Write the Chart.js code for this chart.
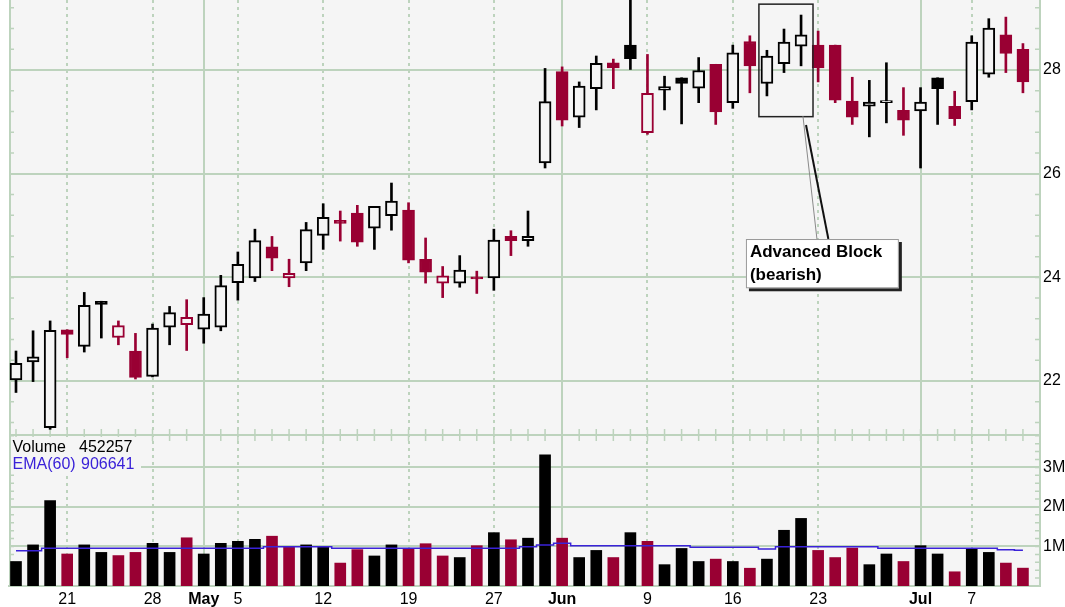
<!DOCTYPE html>
<html>
<head>
<meta charset="utf-8">
<title>Candlestick with volume</title>
<script src="https://cdn.jsdelivr.net/npm/chart.js@4/dist/chart.umd.min.js"></script>
<style>
  html, body { margin: 0; padding: 0; background: #fff; }
  #wrap { width: 1065px; height: 607px; }
</style>
</head>
<body>
<div id="wrap"><canvas id="chart" width="1065" height="607"></canvas></div>
<script>
// daily prices, one entry per trading day (Apr 15 .. Jul 10)
const opens = [22.02, 22.37, 21.10, 22.99, 22.67, 23.54, 22.84, 22.58, 22.09, 23.04,
  23.09, 23.00, 23.04, 23.90, 23.99, 24.59, 23.99, 24.28, 24.81, 25.10,
  25.24, 24.95, 25.19, 25.30, 24.35, 23.89, 23.89, 23.99, 23.99, 24.79,
  24.71, 26.21, 27.97, 27.09, 27.64, 28.14, 28.48, 26.79, 27.61, 27.85,
  27.65, 28.11, 27.37, 28.55, 27.74, 28.12, 28.46, 28.48, 28.48, 27.40,
  27.30, 27.37, 27.22, 27.21, 27.85, 27.30, 27.39, 27.92, 28.68, 28.40];
const highs = [22.58, 22.97, 23.16, 22.99, 23.71, 23.54, 23.16, 22.92, 23.10, 23.44,
  23.57, 23.61, 24.04, 24.49, 24.93, 24.79, 24.35, 25.06, 25.42, 25.28,
  25.39, 25.37, 25.82, 25.44, 24.76, 24.21, 24.42, 24.12, 24.93, 24.90,
  25.28, 28.03, 28.06, 27.77, 28.27, 28.21, 29.50, 28.30, 27.88, 27.85,
  28.24, 28.11, 28.48, 28.66, 28.38, 28.79, 29.06, 28.75, 28.48, 27.86,
  27.80, 28.14, 27.66, 27.66, 27.85, 27.59, 28.66, 28.99, 29.02, 28.51];
const lows = [21.78, 21.99, 21.07, 22.45, 22.56, 22.83, 22.70, 22.04, 22.08, 22.70,
  22.59, 22.73, 22.97, 23.56, 23.92, 24.13, 23.82, 24.13, 24.54, 24.70,
  24.60, 24.54, 24.91, 24.28, 23.89, 23.61, 23.81, 23.69, 23.75, 24.42,
  24.60, 26.11, 26.92, 26.89, 27.23, 27.64, 28.01, 26.76, 27.23, 26.96,
  27.37, 26.95, 27.26, 27.56, 27.50, 27.95, 28.08, 27.77, 27.37, 26.95,
  26.71, 26.98, 26.74, 26.11, 26.95, 26.93, 27.23, 27.86, 27.95, 27.56];
const closes = [22.34, 22.47, 22.98, 22.90, 23.46, 23.48, 23.07, 22.07, 23.02, 23.32,
  23.23, 23.29, 23.84, 24.25, 24.71, 24.37, 24.08, 24.92, 25.16, 25.04,
  24.68, 25.37, 25.47, 24.33, 24.10, 24.03, 24.14, 23.97, 24.72, 24.71,
  24.79, 27.39, 27.03, 27.69, 28.13, 28.04, 28.22, 27.55, 27.68, 27.74,
  27.99, 27.19, 28.33, 28.08, 28.27, 28.54, 28.68, 28.04, 27.42, 27.09,
  27.38, 27.39, 27.03, 27.38, 27.64, 27.06, 28.54, 28.81, 28.32, 27.77];

const volumes = [620000, 1040000, 2160000, 810000, 1040000, 850000, 770000, 850000, 1080000, 850000,
  1220000, 810000, 1080000, 1130000, 1180000, 1260000, 980000, 1040000, 980000, 580000,
  920000, 760000, 1040000, 940000, 1070000, 760000, 720000, 1020000, 1350000, 1170000,
  1210000, 3320000, 1210000, 720000, 900000, 720000, 1350000, 1130000, 540000, 950000,
  620000, 680000, 620000, 450000, 680000, 1410000, 1710000, 900000, 720000, 960000,
  540000, 810000, 620000, 1020000, 810000, 360000, 940000, 850000, 580000, 452257];
const ema60 = [894000, 894000, 954000, 954000, 954000, 954000, 954000, 954000, 954000, 954000,
  954000, 954000, 954000, 954000, 954000, 995000, 995000, 995000, 995000, 954000,
  954000, 954000, 954000, 954000, 954000, 954000, 954000, 954000, 954000, 954000,
  995000, 1038000, 1080000, 1020000, 1020000, 1020000, 1020000, 1020000, 1020000, 1020000,
  980000, 980000, 980000, 980000, 937000, 995000, 995000, 995000, 995000, 995000,
  995000, 954000, 954000, 954000, 954000, 954000, 954000, 954000, 915000, 906641];

// date axis: index of the labelled day and its text
const dateTicks = [3, 8, 11, 13, 18, 23, 28, 32, 37, 42, 47, 53, 56];
const dateLabels = ['21', '28', 'May', '5', '12', '19', '27', 'Jun', '9', '16', '23', 'Jul', '7'];
const monthTicks = [11, 32, 53];

const priceTicks = [22, 24, 26, 28];
const volumeTicks = [1000000, 2000000, 3000000];

// pattern note
const noteLines = ['Advanced Block', '(bearish)'];

const RED = '#990033';
const GRID = '#bdd3bd';
const PANEL = '#f5f5f5';
const BLUE = '#3a22d8';

Chart.defaults.font.family = '"Liberation Sans", Arial, sans-serif';
Chart.defaults.font.size = 16;
Chart.defaults.color = '#000';

function isUp(i) {
  return i === 0 ? closes[0] >= opens[0] : closes[i] >= closes[i - 1];
}
const candleColors = closes.map((c, i) => isUp(i) ? '#000' : RED);
const bodyFills = closes.map((c, i) => c < opens[i] ? candleColors[i] : PANEL);

const decor = {
  id: 'decor',
  beforeDraw(chart) {
    const { ctx, chartArea: a } = chart;
    ctx.save();
    ctx.fillStyle = PANEL;
    ctx.fillRect(a.left, a.top, a.width, a.height);
    ctx.restore();
  },
  beforeDatasetsDraw(chart) {
    const { ctx, chartArea: a, scales } = chart;
    const xs = scales.x, ys = scales.y, vs = scales.v;
    ctx.save();
    ctx.strokeStyle = GRID;

    // left frame
    ctx.lineWidth = 2;
    ctx.beginPath();
    ctx.moveTo(a.left + 1, a.top);
    ctx.lineTo(a.left + 1, a.bottom);
    ctx.stroke();

    // divider between price and volume panes
    ctx.beginPath();
    ctx.moveTo(a.left, ys.bottom);
    ctx.lineTo(a.right, ys.bottom);
    ctx.stroke();

    // small ticks on the divider, one per day
    ctx.lineWidth = 1.5;
    ctx.beginPath();
    for (let i = 0; i < closes.length; i++) {
      const px = xs.getPixelForValue(i);
      ctx.moveTo(px, ys.bottom - 6);
      ctx.lineTo(px, ys.bottom + 6);
    }
    ctx.stroke();

    // minor ticks along both side frames
    ctx.beginPath();
    for (let v = 22 - 0.4 * 2; v <= ys.max; v += 0.4) {
      const py = ys.getPixelForValue(v);
      if (py < a.top || py > ys.bottom) continue;
      ctx.moveTo(a.right - 5, py); ctx.lineTo(a.right, py);
      ctx.moveTo(a.left, py); ctx.lineTo(a.left + 5, py);
    }
    for (let v = 200000; v < vs.max; v += 200000) {
      const py = vs.getPixelForValue(v);
      ctx.moveTo(a.right - 5, py); ctx.lineTo(a.right, py);
      ctx.moveTo(a.left, py); ctx.lineTo(a.left + 5, py);
    }
    ctx.stroke();

    // volume pane caption
    ctx.fillStyle = PANEL;
    ctx.fillRect(a.left + 2, ys.bottom + 2, 130, 35);
    ctx.font = '16px "Liberation Sans", Arial, sans-serif';
    ctx.textBaseline = 'alphabetic';
    ctx.fillStyle = '#000';
    ctx.fillText('Volume', 12.5, ys.bottom + 17);
    ctx.fillText(String(volumes[volumes.length - 1]), 79, ys.bottom + 17);
    ctx.fillStyle = BLUE;
    ctx.fillText('EMA(60)', 12.5, ys.bottom + 34);
    ctx.fillText(String(ema60[ema60.length - 1]), 81, ys.bottom + 34);
    ctx.restore();
  },
  afterDraw(chart) {
    const { ctx, scales } = chart;
    const xs = scales.x, ys = scales.y;
    const X = v => xs.getPixelForValue(v);
    const Y = v => ys.getPixelForValue(v);
    ctx.save();

    // frame around the three advancing candles
    ctx.strokeStyle = '#222';
    ctx.lineWidth = 1.5;
    ctx.strokeRect(X(43.53), Y(29.27), X(46.7) - X(43.53), Y(27.1) - Y(29.27));

    // pointer from frame to note
    ctx.lineWidth = 1;
    ctx.strokeStyle = '#8a8a8a';
    ctx.beginPath();
    ctx.moveTo(X(46.11), Y(27.11));
    ctx.lineTo(X(46.93), Y(24.74));
    ctx.stroke();
    ctx.lineWidth = 2;
    ctx.strokeStyle = '#111';
    ctx.beginPath();
    ctx.moveTo(X(46.29), Y(26.94));
    ctx.lineTo(X(47.6), Y(24.74));
    ctx.stroke();

    // note box with drop shadow
    const bx = X(42.77), by = Y(24.74);
    const bw = X(51.73) - bx, bh = Y(23.79) - by;
    ctx.fillStyle = '#222';
    ctx.fillRect(bx + 3, by + 3, bw, bh);
    ctx.fillStyle = '#fff';
    ctx.fillRect(bx, by, bw, bh);
    ctx.strokeStyle = '#999';
    ctx.lineWidth = 1;
    ctx.strokeRect(bx + 0.5, by + 0.5, bw - 1, bh - 1);
    ctx.fillStyle = '#000';
    ctx.font = 'bold 17px "Liberation Sans", Arial, sans-serif';
    ctx.textBaseline = 'alphabetic';
    noteLines.forEach((t, k) => ctx.fillText(t, bx + 4, by + 18 + k * 23));
    ctx.restore();
  }
};

const ctx = document.getElementById('chart');
new Chart(ctx, {
  type: 'bar',
  data: {
    datasets: [
      {
        // candle bodies, open to close
        label: 'Body',
        yAxisID: 'y',
        data: opens.map((o, i) => ({ x: i, y: [o, closes[i]] })),
        backgroundColor: bodyFills,
        borderColor: candleColors,
        borderWidth: 2,
        borderSkipped: false,
        barThickness: 12,
        minBarLength: 2,
        grouped: false,
        order: 1
      },
      {
        // high-low wicks
        label: 'Range',
        yAxisID: 'y',
        data: lows.map((l, i) => ({ x: i, y: [l, highs[i]] })),
        backgroundColor: candleColors,
        borderWidth: 0,
        barThickness: 2,
        grouped: false,
        order: 2
      },
      {
        label: 'EMA(60)',
        type: 'line',
        yAxisID: 'v',
        data: ema60.map((v, i) => ({ x: i, y: v })),
        borderColor: BLUE,
        borderWidth: 1.5,
        pointRadius: 0,
        stepped: 'middle',
        order: 0
      },
      {
        label: 'Volume',
        yAxisID: 'v',
        data: volumes.map((v, i) => ({ x: i, y: v })),
        backgroundColor: candleColors,
        barThickness: 11,
        grouped: false,
        order: 3
      }
    ]
  },
  options: {
    responsive: false,
    animation: false,
    events: [],
    layout: { padding: { left: 9, top: 0, right: 0, bottom: 0 } },
    plugins: { legend: { display: false }, tooltip: { enabled: false } },
    scales: {
      x: {
        type: 'linear',
        offset: false,
        min: -0.41,
        max: 60,
        afterBuildTicks: s => { s.ticks = dateTicks.map(v => ({ value: v })); },
        afterFit: s => { s.height = 21; s.paddingLeft = 0; s.paddingRight = 0; },
        ticks: {
          autoSkip: false,
          maxRotation: 0,
          padding: 4,
          callback: v => dateLabels[dateTicks.indexOf(v)],
          font: c => ({ size: 16, weight: monthTicks.includes(c.tick && c.tick.value) ? 'bold' : 'normal' })
        },
        grid: { color: GRID, lineWidth: 2, drawTicks: false, offset: false },
        border: {
          color: GRID,
          width: 2,
          dash: c => (c.type === 'tick' && !monthTicks.includes(c.tick.value)) ? [3, 4] : []
        }
      },
      y: {
        type: 'linear',
        position: 'right',
        stack: 'panes',
        stackWeight: 435,
        min: 20.96,
        max: 29.35,
        afterBuildTicks: s => { s.ticks = priceTicks.map(v => ({ value: v })); },
        afterFit: s => { s.width = 25; s.paddingTop = 0; s.paddingBottom = 0; },
        ticks: { padding: 3, callback: v => String(v) },
        grid: { color: GRID, lineWidth: 2, drawTicks: false },
        border: { color: GRID, width: 2 }
      },
      v: {
        type: 'linear',
        position: 'right',
        stack: 'panes',
        stackWeight: 151,
        min: 0,
        max: 3820000,
        afterBuildTicks: s => { s.ticks = volumeTicks.map(v => ({ value: v })); },
        afterFit: s => { s.width = 25; s.paddingTop = 0; s.paddingBottom = 0; },
        ticks: { padding: 3, callback: v => (v / 1000000) + 'M' },
        grid: { color: GRID, lineWidth: 2, drawTicks: false },
        border: { color: GRID, width: 2 }
      }
    }
  },
  plugins: [decor]
});
</script>
</body>
</html>
